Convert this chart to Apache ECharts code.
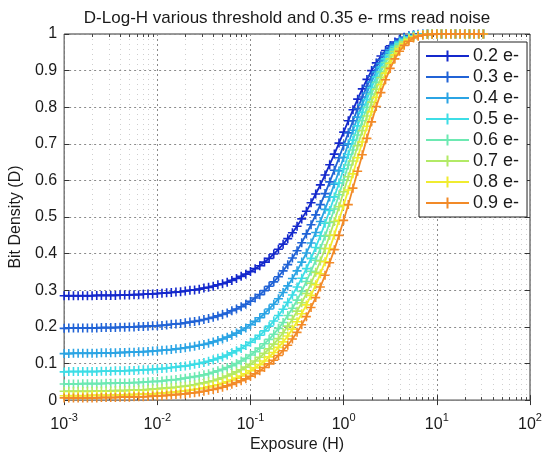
<!DOCTYPE html>
<html>
<head>
<meta charset="utf-8">
<script src="https://cdn.jsdelivr.net/npm/echarts@6/dist/echarts.min.js"></script>
<style>
html,body{margin:0;padding:0;background:#fff;}
#chart{width:545px;height:458px;}
</style>
</head>
<body>
<div id="chart"></div>
<script>
const titleText = 'D-Log-H various threshold and 0.35 e- rms read noise';
const xName = 'Exposure (H)';
const yName = 'Bit Density (D)';
const seriesNames = ['0.2 e-','0.3 e-','0.4 e-','0.5 e-','0.6 e-','0.7 e-','0.8 e-','0.9 e-'];
const colors = ['#1428cc','#2163d6','#2ba4e4','#3ddde6','#6de9b2','#b2ea66','#f0ec30','#f28a28'];
const xTicks = [0.001, 0.01, 0.1, 1, 10, 100];
const yTicks = [0,0.1,0.2,0.3,0.4,0.5,0.6,0.7,0.8,0.9,1];

const exposure = [0.001,0.001122,0.001259,0.001413,0.001585,0.001778,0.001995,0.002239,0.002512,0.002818,
0.003162,0.003548,0.003981,0.004467,0.005012,0.005623,0.00631,0.007079,0.007943,0.008913,
0.01,0.01122,0.01259,0.01413,0.01585,0.01778,0.01995,0.02239,0.02512,0.02818,
0.03162,0.03548,0.03981,0.04467,0.05012,0.05623,0.0631,0.07079,0.07943,0.08913,
0.1,0.1122,0.1259,0.1413,0.1585,0.1778,0.1995,0.2239,0.2512,0.2818,
0.3162,0.3548,0.3981,0.4467,0.5012,0.5623,0.631,0.7079,0.7943,0.8913,
1,1.122,1.259,1.413,1.585,1.778,1.995,2.239,2.512,2.818,
3.162,3.548,3.981,4.467,5.012,5.623,6.31,7.079,7.943,8.913,
10,11.22,12.59,14.13,15.85,17.78,19.95,22.39,25.12,28.18,31.62];

const d02 = [0.285,0.285,0.285,0.285,0.285,0.285,0.285,0.286,0.286,0.286,0.286,0.286,0.287,0.287,0.287,0.288,0.288,0.289,0.290,0.290,
0.291,0.292,0.293,0.294,0.295,0.296,0.298,0.300,0.301,0.303,0.306,0.308,0.311,0.315,0.318,0.322,0.327,0.332,0.338,0.344,
0.351,0.359,0.367,0.377,0.387,0.399,0.412,0.426,0.441,0.457,0.475,0.495,0.516,0.539,0.563,0.588,0.615,0.643,0.672,0.702,
0.732,0.763,0.793,0.822,0.850,0.876,0.900,0.921,0.940,0.955,0.968,0.978,0.986,0.991,0.995,0.997,0.999,0.999,1.000,1.000,
1,1,1,1,1,1,1,1,1,1,1];
const d03 = [0.196,0.197,0.197,0.197,0.197,0.197,0.197,0.197,0.198,0.198,0.198,0.198,0.199,0.199,0.200,0.200,0.201,0.201,0.202,0.203,
0.203,0.204,0.205,0.207,0.208,0.209,0.211,0.213,0.215,0.217,0.220,0.223,0.226,0.230,0.234,0.238,0.244,0.249,0.255,0.262,
0.270,0.279,0.288,0.299,0.311,0.323,0.337,0.353,0.370,0.388,0.408,0.430,0.454,0.479,0.506,0.534,0.564,0.596,0.628,0.662,
0.696,0.730,0.763,0.796,0.828,0.857,0.884,0.909,0.930,0.948,0.963,0.975,0.983,0.990,0.994,0.997,0.998,0.999,1.000,1.000,
1,1,1,1,1,1,1,1,1,1,1];
const d04 = [0.127,0.127,0.128,0.128,0.128,0.128,0.128,0.128,0.129,0.129,0.129,0.129,0.130,0.130,0.131,0.131,0.132,0.132,0.133,0.134,
0.135,0.136,0.137,0.138,0.140,0.141,0.143,0.145,0.147,0.150,0.152,0.155,0.159,0.163,0.167,0.172,0.177,0.183,0.190,0.197,
0.206,0.215,0.225,0.236,0.249,0.262,0.277,0.294,0.312,0.332,0.353,0.377,0.402,0.429,0.458,0.488,0.521,0.555,0.590,0.626,
0.663,0.700,0.737,0.773,0.807,0.839,0.869,0.897,0.920,0.941,0.957,0.970,0.980,0.988,0.993,0.996,0.998,0.999,1.000,1.000,
1,1,1,1,1,1,1,1,1,1,1];
const d05 = [0.077,0.078,0.078,0.078,0.078,0.078,0.078,0.078,0.079,0.079,0.079,0.080,0.080,0.080,0.081,0.081,0.082,0.083,0.083,0.084,
0.085,0.086,0.087,0.089,0.090,0.092,0.093,0.095,0.098,0.100,0.103,0.106,0.110,0.114,0.118,0.123,0.129,0.135,0.141,0.149,
0.158,0.167,0.177,0.189,0.202,0.216,0.231,0.248,0.267,0.287,0.309,0.333,0.359,0.387,0.417,0.449,0.483,0.518,0.555,0.593,
0.632,0.671,0.710,0.749,0.786,0.821,0.854,0.883,0.910,0.932,0.951,0.966,0.977,0.985,0.991,0.995,0.997,0.999,0.999,1.000,
1,1,1,1,1,1,1,1,1,1,1];
const d06 = [0.044,0.044,0.044,0.044,0.045,0.045,0.045,0.045,0.045,0.046,0.046,0.046,0.047,0.047,0.047,0.048,0.048,0.049,0.050,0.051,
0.051,0.052,0.054,0.055,0.056,0.058,0.060,0.062,0.064,0.066,0.069,0.072,0.076,0.080,0.084,0.089,0.094,0.100,0.107,0.114,
0.123,0.132,0.142,0.154,0.166,0.180,0.196,0.212,0.231,0.251,0.273,0.297,0.324,0.352,0.382,0.414,0.448,0.485,0.522,0.561,
0.601,0.642,0.683,0.724,0.763,0.800,0.836,0.868,0.897,0.922,0.943,0.960,0.973,0.983,0.989,0.994,0.997,0.998,0.999,1.000,
1,1,1,1,1,1,1,1,1,1,1];
const d07 = [0.024,0.024,0.024,0.024,0.024,0.024,0.024,0.025,0.025,0.025,0.025,0.026,0.026,0.026,0.027,0.027,0.028,0.028,0.029,0.030,
0.031,0.032,0.033,0.034,0.035,0.037,0.038,0.040,0.042,0.045,0.047,0.050,0.053,0.057,0.061,0.066,0.071,0.077,0.083,0.090,
0.098,0.107,0.117,0.128,0.140,0.153,0.168,0.184,0.202,0.221,0.243,0.266,0.291,0.319,0.349,0.380,0.414,0.450,0.488,0.528,
0.569,0.610,0.653,0.695,0.736,0.776,0.814,0.849,0.881,0.909,0.932,0.952,0.967,0.979,0.987,0.992,0.996,0.998,0.999,1.000,
1,1,1,1,1,1,1,1,1,1,1];
const d08 = [0.012,0.012,0.012,0.012,0.012,0.012,0.013,0.013,0.013,0.013,0.013,0.014,0.014,0.014,0.015,0.015,0.016,0.016,0.017,0.017,
0.018,0.019,0.020,0.021,0.022,0.024,0.025,0.027,0.029,0.031,0.033,0.036,0.039,0.042,0.046,0.050,0.055,0.060,0.066,0.072,
0.080,0.088,0.097,0.107,0.118,0.130,0.144,0.159,0.175,0.194,0.214,0.236,0.260,0.286,0.315,0.345,0.378,0.414,0.451,0.491,
0.532,0.574,0.618,0.662,0.705,0.748,0.788,0.827,0.862,0.893,0.920,0.943,0.960,0.974,0.984,0.991,0.995,0.997,0.999,1.000,
1,1,1,1,1,1,1,1,1,1,1];
const d09 = [0.006,0.006,0.006,0.006,0.006,0.006,0.006,0.006,0.007,0.007,0.007,0.007,0.008,0.008,0.008,0.009,0.009,0.009,0.010,0.011,
0.011,0.012,0.013,0.014,0.015,0.016,0.017,0.019,0.020,0.022,0.024,0.027,0.029,0.032,0.035,0.039,0.043,0.048,0.053,0.058,
0.065,0.072,0.080,0.089,0.099,0.109,0.122,0.135,0.150,0.167,0.185,0.206,0.228,0.253,0.280,0.309,0.341,0.375,0.411,0.450,
0.491,0.534,0.579,0.625,0.670,0.715,0.760,0.802,0.840,0.875,0.906,0.932,0.953,0.969,0.980,0.989,0.994,0.997,0.999,0.999,
1,1,1,1,1,1,1,1,1,1,1];

const allSeries = [d02,d03,d04,d05,d06,d07,d08,d09];

// minor tick positions for the log axis (2..9 in each decade)
const minorTicks = [];
for (let k = 0; k < xTicks.length - 1; k++) {
  for (let m = 2; m <= 9; m++) minorTicks.push(xTicks[k] * m);
}

const FONT = '"Liberation Sans", Arial, Helvetica, sans-serif';
const TXT = '#1a1a1a';
const plusPath = 'path://M5 0L5 10M0 5L10 5';

const chart = echarts.init(document.getElementById('chart'), null, {renderer: 'canvas'});

const lineSeries = allSeries.map((vals, i) => ({
  name: seriesNames[i],
  type: 'line',
  xAxisIndex: 0,
  yAxisIndex: 0,
  data: exposure.map((h, j) => [h, vals[j]]),
  symbol: plusPath,
  symbolSize: 9,
  showSymbol: true,
  showAllSymbol: true,
  lineStyle: {color: colors[i], width: 1.8},
  itemStyle: {color: colors[i], borderColor: colors[i], borderWidth: 1.6},
  emphasis: {disabled: true},
  z: 3 + i,
  animation: false
}));

const minorSeries = {
  type: 'custom',
  name: 'minor',
  xAxisIndex: 0,
  yAxisIndex: 0,
  silent: true,
  z: 1,
  data: minorTicks.map(v => [v, 0]),
  encode: {x: 0, y: 1},
  renderItem: function (params, api) {
    const x = Math.round(api.coord([api.value(0), 0])[0]) + 0.5;
    const cs = params.coordSys;
    const top = cs.y, bottom = cs.y + cs.height;
    return {
      type: 'group',
      children: [
        {type: 'line', shape: {x1: x, y1: top, x2: x, y2: bottom},
          style: {stroke: '#cfcfcf', lineWidth: 1, lineDash: [1, 4]}},
        {type: 'line', shape: {x1: x, y1: bottom, x2: x, y2: bottom - 3},
          style: {stroke: '#444', lineWidth: 1}},
        {type: 'line', shape: {x1: x, y1: top, x2: x, y2: top + 3},
          style: {stroke: '#444', lineWidth: 1}}
      ]
    };
  },
  animation: false
};

const option = {
  backgroundColor: '#fff',
  animation: false,
  title: {
    text: titleText,
    left: 282,
    top: 5,
    textAlign: 'center',
    textStyle: {fontFamily: FONT, fontSize: 17, fontWeight: 'normal', color: TXT}
  },
  legend: {
    data: seriesNames,
    orient: 'vertical',
    left: 419,
    top: 42,
    padding: [5, 8, 5, 6],
    itemGap: 3,
    itemWidth: 43,
    itemHeight: 14,
    backgroundColor: '#fff',
    borderColor: '#222',
    borderWidth: 1,
    borderRadius: 0,
    selectedMode: false,
    textStyle: {fontFamily: FONT, fontSize: 18, color: TXT, padding: [0, 0, 0, -1]}
  },
  grid: {
    left: 58, right: 15, top: 34, bottom: 52,
    show: true, borderColor: '#333', borderWidth: 1, backgroundColor: '#fff',
    containLabel: false
  },
  xAxis: [{
    type: 'log',
    logBase: 10,
    min: 0.001,
    max: 100,
    name: xName,
    nameLocation: 'middle',
    nameGap: 36,
    nameTextStyle: {fontFamily: FONT, fontSize: 16, color: TXT},
    axisLine: {show: false},
    axisTick: {show: true, inside: true, length: 5, lineStyle: {color: '#333'}},
    axisLabel: {
      margin: 12,
      fontFamily: FONT,
      color: TXT,
      formatter: function (v) {
        const e = Math.round(Math.log10(v));
        return '{b|10}{s|' + e + '}';
      },
      rich: {
        b: {fontFamily: FONT, fontSize: 16, color: TXT},
        s: {fontFamily: FONT, fontSize: 11, color: TXT, padding: [0, 0, 13, 0]}
      }
    },
    splitLine: {show: true, lineStyle: {color: '#8a8a8a', width: 1, type: [2, 3]}}
  }, {
    type: 'log',
    logBase: 10,
    min: 0.001,
    max: 100,
    position: 'top',
    axisLine: {show: false},
    axisTick: {show: true, inside: true, length: 5, lineStyle: {color: '#333'}},
    axisLabel: {show: false},
    splitLine: {show: false}
  }],
  yAxis: [{
    type: 'value',
    min: 0,
    max: 1,
    interval: 0.1,
    name: yName,
    nameLocation: 'middle',
    nameGap: 40,
    nameTextStyle: {fontFamily: FONT, fontSize: 16, color: TXT},
    axisLine: {show: false},
    axisTick: {show: true, inside: true, length: 5, lineStyle: {color: '#333'}},
    axisLabel: {
      margin: 7,
      fontFamily: FONT, fontSize: 16, color: TXT,
      formatter: function (v) {
        const t = yTicks.find(y => Math.abs(y - v) < 1e-9);
        return t === undefined ? '' : String(t);
      }
    },
    splitLine: {show: true, lineStyle: {color: '#8a8a8a', width: 1, type: [2, 3]}}
  }, {
    type: 'value',
    min: 0,
    max: 1,
    interval: 0.1,
    position: 'right',
    axisLine: {show: false},
    axisTick: {show: true, inside: true, length: 5, lineStyle: {color: '#333'}},
    axisLabel: {show: false},
    splitLine: {show: false}
  }],
  series: [minorSeries].concat(lineSeries)
};

chart.setOption(option);
</script>
</body>
</html>
